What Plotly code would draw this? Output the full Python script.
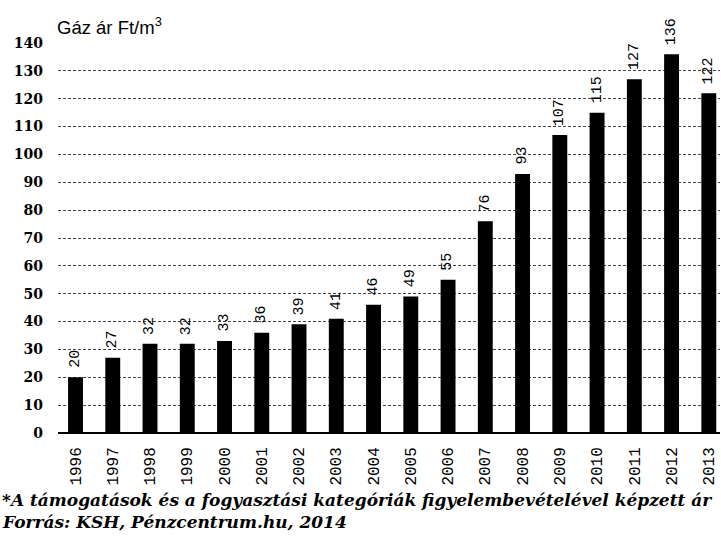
import plotly.graph_objects as go

# Household gas price (Ft/m3) by year
years = ["1996", "1997", "1998", "1999", "2000", "2001", "2002", "2003", "2004",
         "2005", "2006", "2007", "2008", "2009", "2010", "2011", "2012", "2013"]
prices = [20, 27, 32, 32, 33, 36, 39, 41, 46, 49, 55, 76, 93, 107, 115, 127, 136, 122]
y_ticks = [0, 10, 20, 30, 40, 50, 60, 70, 80, 90, 100, 110, 120, 130, 140]

title_text = "Gáz ár Ft/m<sup>3</sup>"
note_text = "*A támogatások és a fogyasztási kategóriák figyelembevételével képzett ár"
source_text = "Forrás: KSH, Pénzcentrum.hu, 2014"

mono = "Liberation Mono"
W, H = 721, 536
ML, MR, MT, MB = 58, 1, 43, 103


def page_x(px):
    return (px - ML) / (W - ML - MR)


def page_y(py):
    return 1 - (py - MT) / (H - MT - MB)


fig = go.Figure(
    go.Bar(
        x=years,
        y=prices,
        marker=dict(color="black", line=dict(width=0)),
    )
)

annotations = []
# Vertical value labels above each bar (category axis -> use the category index)
for i, p in enumerate(prices):
    annotations.append(dict(
        x=i, y=p, xref="x", yref="y", text=str(p), showarrow=False,
        textangle=-90, xanchor="center", yanchor="bottom", yshift=7,
        font=dict(family=mono, size=15, color="black"),
    ))

annotations += [
    dict(text=title_text, x=page_x(55), y=page_y(26), xref="paper", yref="paper",
         showarrow=False, xanchor="left", yanchor="middle",
         font=dict(family="Liberation Sans", size=18.5, color="black")),
    dict(text=note_text, x=page_x(0), y=page_y(500), xref="paper", yref="paper",
         showarrow=False, xanchor="left", yanchor="middle",
         font=dict(family="DejaVu Serif", size=17, color="black",
                   weight="bold", style="italic")),
    dict(text=source_text, x=page_x(0), y=page_y(522), xref="paper", yref="paper",
         showarrow=False, xanchor="left", yanchor="middle",
         font=dict(family="DejaVu Serif", size=17, color="black",
                   weight="bold", style="italic")),
]

fig.update_layout(
    width=W,
    height=H,
    margin=dict(l=ML, r=MR, t=MT, b=MB),
    paper_bgcolor="white",
    plot_bgcolor="white",
    bargap=0.6,
    showlegend=False,
    xaxis=dict(
        type="category",
        range=[-0.47, 17.3],
        showgrid=False,
        showline=False,
        ticks="",
        tickangle=-90,
        tickfont=dict(family=mono, size=16, color="black"),
        ticklabelstandoff=10,
    ),
    yaxis=dict(
        range=[0, 140],
        tickvals=y_ticks,
        showgrid=True,
        gridcolor="#444444",
        griddash="3px,2px",
        gridwidth=1,
        zeroline=True,
        zerolinecolor="black",
        zerolinewidth=2,
        showline=False,
        ticks="",
        tickfont=dict(family="DejaVu Serif", size=14, color="black", weight="bold"),
        ticklabelstandoff=14,
    ),
    annotations=annotations,
)

fig.write_html("out.html")
